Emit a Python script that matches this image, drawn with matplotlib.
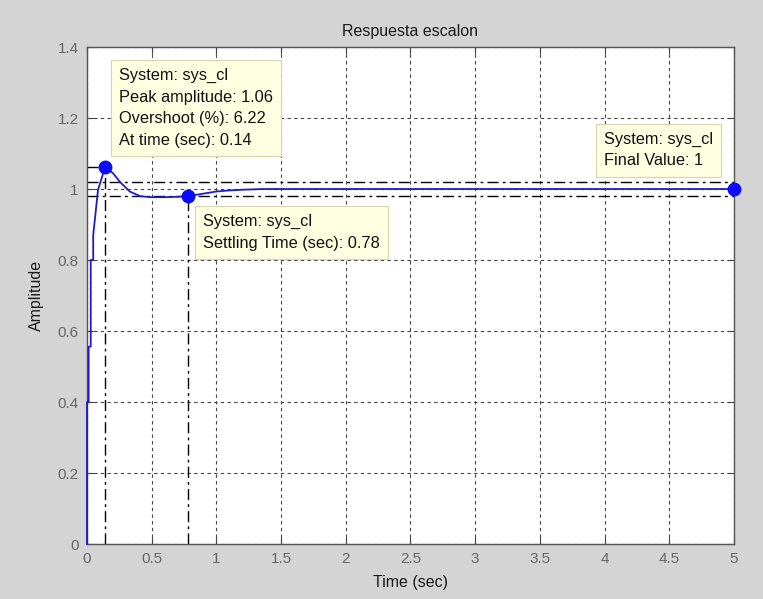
import matplotlib
matplotlib.use('Agg')
import matplotlib.pyplot as plt

# ---- data ----
t_resp = [0.0, 0.0, 0.013, 0.013, 0.029, 0.029, 0.048, 0.048, 0.085, 0.14,
          0.20, 0.255, 0.33, 0.41, 0.49, 0.60, 0.70, 0.78, 0.90, 1.00,
          1.10, 1.20, 1.36, 5.0]
y_resp = [0.0, 0.40, 0.40, 0.556, 0.556, 0.80, 0.80, 0.87, 0.997, 1.062,
          1.045, 1.020, 0.993, 0.980, 0.977, 0.977, 0.978, 0.980, 0.987, 0.993,
          0.996, 0.998, 1.0, 1.0]

peak_t, peak_y = 0.14, 1.062
settle_t, settle_y = 0.78, 0.98
final_t, final_y = 5.0, 1.0
band_hi, band_lo = 1.02, 0.98

x_ticks = [0, 0.5, 1, 1.5, 2, 2.5, 3, 3.5, 4, 4.5, 5]
x_ticklabels = ['0', '0.5', '1', '1.5', '2', '2.5', '3', '3.5', '4', '4.5', '5']
y_ticks = [0, 0.2, 0.4, 0.6, 0.8, 1.0, 1.2, 1.4]
y_ticklabels = ['0', '0.2', '0.4', '0.6', '0.8', '1', '1.2', '1.4']

title = 'Respuesta escalon'
xlabel = 'Time (sec)'
ylabel = 'Amplitude'
tip_peak = 'System: sys_cl\nPeak amplitude: 1.06\nOvershoot (%): 6.22\nAt time (sec): 0.14'
tip_settle = 'System: sys_cl\nSettling Time (sec): 0.78'
tip_final = 'System: sys_cl\nFinal Value: 1'

# ---- figure ----
plt.rcParams['font.family'] = ['Liberation Sans', 'DejaVu Sans']
fig = plt.figure(figsize=(7.63, 5.99), dpi=100, facecolor='#d4d4d4')
ax = fig.add_axes([0.114, 0.0918, 0.848, 0.8297])
ax.set_facecolor('white')
ax.set_xlim(0, 5)
ax.set_ylim(0, 1.4)

grid_style = (0, (3, 3))
ax.grid(True, color='#444444', linestyle=grid_style, linewidth=0.8)
ax.set_axisbelow(True)

dd = (0, (8, 3, 2, 3))
# settling band
ax.axhline(band_hi, color='black', linestyle=dd, linewidth=1.0, zorder=2)
ax.axhline(band_lo, color='black', linestyle=dd, linewidth=1.0, zorder=2)
# peak guides
ax.plot([0, peak_t], [peak_y, peak_y], color='black', linestyle=dd, linewidth=1.0, zorder=2)
ax.plot([peak_t, peak_t], [0, peak_y], color='black', linestyle=dd, linewidth=1.0, zorder=2)
# settling guide
ax.plot([settle_t, settle_t], [0, settle_y], color='black', linestyle=dd, linewidth=1.0, zorder=2)

# response
ax.plot(t_resp, y_resp, color='#1c1ccc', linewidth=1.3, zorder=3, clip_on=False)

# markers
for mx, my in [(peak_t, peak_y), (settle_t, settle_y), (final_t, final_y)]:
    ax.plot([mx], [my], 'o', color='#0a0aff', markersize=9, zorder=5, clip_on=False)

# data tips
box = dict(boxstyle='square,pad=0.5', facecolor='#ffffe1', edgecolor='#d8d4b0', linewidth=0.8)
tip_kw = dict(fontsize=11.8, color='#111111', ha='left', va='top', linespacing=1.54,
              bbox=box, zorder=6)
ax.text(0.248, 1.341, tip_peak, **tip_kw)
ax.text(0.896, 0.9296, tip_settle, **tip_kw)
ax.text(3.995, 1.161, tip_final, **tip_kw)

# ticks
ax.set_xticks(x_ticks)
ax.set_xticklabels(x_ticklabels)
ax.set_yticks(y_ticks)
ax.set_yticklabels(y_ticklabels)
ax.tick_params(direction='in', length=5, width=0.8, color='#444444',
               top=True, right=True, labelsize=11, labelcolor='#666666', pad=6)
for s in ax.spines.values():
    s.set_color('#555555')
    s.set_linewidth(1.0)

ax.set_title(title, fontsize=11.5, color='#1a1a1a', pad=8)
ax.set_xlabel(xlabel, fontsize=11.5, color='#1a1a1a', labelpad=6)
ax.set_ylabel(ylabel, fontsize=11.5, color='#1a1a1a', labelpad=10)

fig.savefig('out.png', dpi=100, facecolor=fig.get_facecolor())
